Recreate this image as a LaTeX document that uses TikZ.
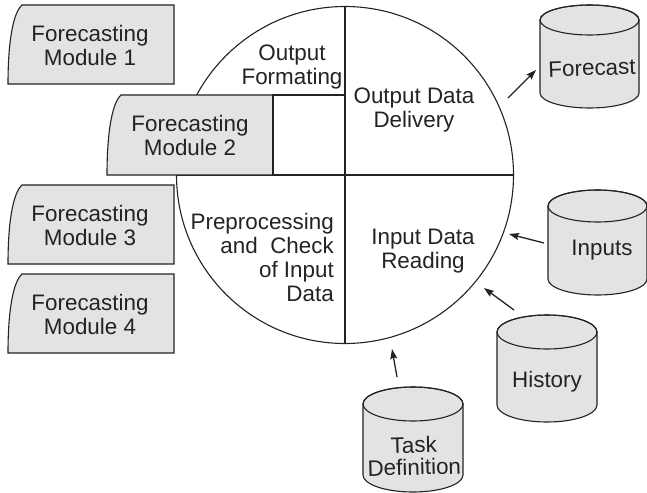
\documentclass[tikz,border=0pt]{standalone}
\usepackage{fontspec}
\setmainfont{Liberation Sans}
\usetikzlibrary{arrows.meta}
\definecolor{ink}{RGB}{38,34,34}
\definecolor{boxgrey}{RGB}{227,227,227}
\tikzset{
  outline/.style={draw=ink, line width=1.1pt},
  greybox/.style={outline, fill=boxgrey},
  lbl/.style={text=ink, align=center, inner sep=0pt, font=\fontsize{22.4}{24}\selectfont},
  flow/.style={draw=ink, line width=1.3pt, -{Stealth[length=10pt,width=7pt,inset=1.5pt]}}
}
\begin{document}
\begin{tikzpicture}[x=1pt,y=1pt]
\useasboundingbox (0,0) rectangle (647,-492);
% central circle
\draw[outline, fill=white] (345,-175) circle[radius=168.5pt];
\draw[outline] (345,-6.5) -- (345,-343.5);
\draw[outline] (176.5,-175) -- (513.5,-175);
% forecasting modules
\draw[greybox] (22,-5) -- (174,-5) -- (174,-84) -- (8,-84) .. controls (8,-42) and (13,-13) .. (22,-5) -- cycle;
\draw[greybox] (121,-95) -- (273,-95) -- (273,-175) -- (107,-175) .. controls (107,-133) and (112,-103) .. (121,-95) -- cycle;
\draw[outline, fill=white] (273,-95) rectangle (345,-175);
\draw[greybox] (22,-185) -- (174,-185) -- (174,-264) -- (8,-264) .. controls (8,-222) and (13,-193) .. (22,-185) -- cycle;
\draw[greybox] (22,-274) -- (174,-274) -- (174,-353) -- (8,-353) .. controls (8,-311) and (13,-282) .. (22,-274) -- cycle;
\node[lbl] (m1) at (90,-45) {Forecasting\\Module 1};
\node[lbl] (m2) at (190,-135) {Forecasting\\Module 2};
\node[lbl] (m3) at (90,-225) {Forecasting\\Module 3};
\node[lbl] (m4) at (90,-314) {Forecasting\\Module 4};
% circle sectors
\node[lbl] (fmt) at (292,-67) {Output\\Formating};
\node[lbl] (odd) at (414,-110) {Output Data\\Delivery};
\node[lbl, align=right, anchor=east] (pre) at (334,-257) {Preprocessing\\and\ \ Check\\of Input\\Data};
\node[lbl] (idr) at (423,-251) {Input Data\\Reading};
% databases
% Forecast
\draw[greybox] (540,-20) -- (540,-93) arc[start angle=180,end angle=360,x radius=49.5pt,y radius=15pt] -- (639,-20) arc[start angle=0,end angle=180,x radius=49.5pt,y radius=15pt] -- cycle;
\draw[outline] (589.5,-20) ellipse[x radius=49.5pt,y radius=15pt];
\node[lbl, rotate=2] (fc) at (592,-68) {Forecast};
% Inputs
\draw[greybox] (548,-206) -- (548,-279) arc[start angle=180,end angle=360,x radius=49.5pt,y radius=16pt] -- (647,-206) arc[start angle=0,end angle=180,x radius=49.5pt,y radius=16pt] -- cycle;
\draw[outline] (597.5,-206) ellipse[x radius=49.5pt,y radius=16pt];
\node[lbl] (in) at (602,-250) {Inputs};
% History
\draw[greybox] (497,-332) -- (497,-405) arc[start angle=180,end angle=360,x radius=50pt,y radius=17pt] -- (597,-332) arc[start angle=0,end angle=180,x radius=50pt,y radius=17pt] -- cycle;
\draw[outline] (547,-332) ellipse[x radius=50pt,y radius=17pt];
\node[lbl] (hi) at (547,-382) {History};
% Task Definition
\draw[greybox] (363,-404) -- (363,-475) arc[start angle=180,end angle=360,x radius=50pt,y radius=17pt] -- (463,-404) arc[start angle=0,end angle=180,x radius=50pt,y radius=17pt] -- cycle;
\draw[outline] (413,-404) ellipse[x radius=50pt,y radius=17pt];
\node[lbl, rotate=1.5, font=\fontsize{22.4}{22}\selectfont] (td) at (414,-456) {Task\\Definition};
% connectors
\coordinate (c1s) at (508,-98);  \coordinate (c1e) at (536,-70);
\coordinate (c2s) at (544,-243); \coordinate (c2e) at (509,-234);
\coordinate (c3s) at (514,-310); \coordinate (c3e) at (484,-288);
\coordinate (c4s) at (397,-377); \coordinate (c4e) at (392,-349);
\draw[flow] (c1s) -- (c1e);
\draw[flow] (c2s) -- (c2e);
\draw[flow] (c3s) -- (c3e);
\draw[flow] (c4s) -- (c4e);
\end{tikzpicture}
\end{document}
